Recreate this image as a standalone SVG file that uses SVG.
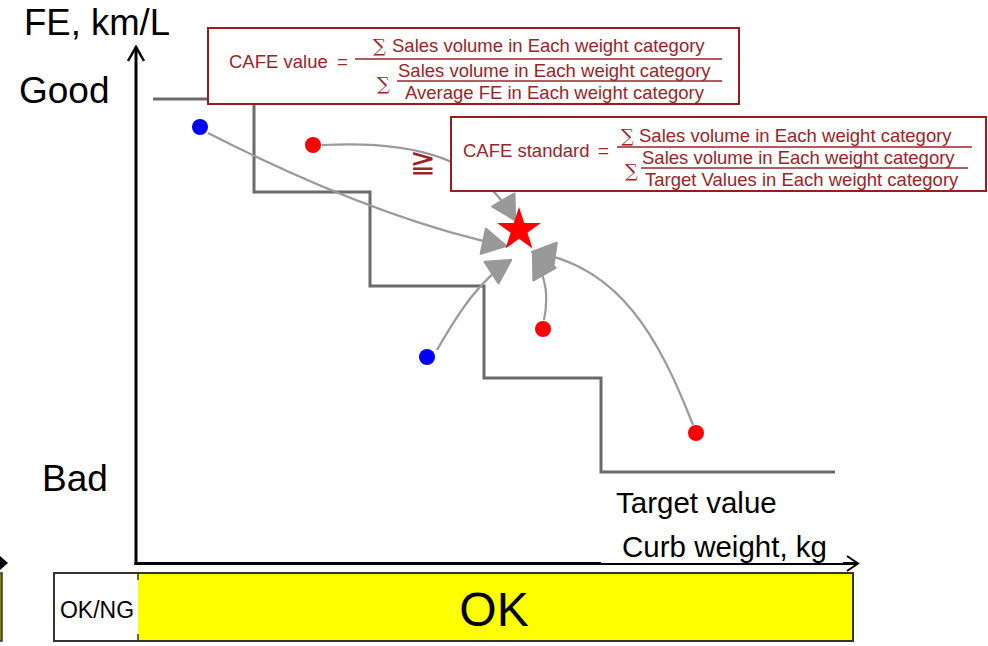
<svg xmlns="http://www.w3.org/2000/svg" width="988" height="646" viewBox="0 0 988 646">
<defs>
<style>
text{font-family:"Liberation Sans",Arial,sans-serif}
.lbl{fill:#000}
.f{fill:#9a2528;font-size:18.5px}
.sig{fill:#9a2528;font-size:18px;font-family:"DejaVu Serif","Liberation Serif",serif}
.box{fill:#fff;stroke:#9b1c20;stroke-width:2}
.fl{stroke:#9a2528;stroke-width:1.5}
.stair{fill:none;stroke:#6b6b6b;stroke-width:3}
.con{fill:none;stroke:#9a9a9a;stroke-width:2.2}
.dotr{fill:#ff0000}
.dotb{fill:#0000ff}
</style>
<marker id="ah" markerUnits="userSpaceOnUse" markerWidth="30" markerHeight="30" viewBox="-2 -2 26 26" refX="20" refY="11" orient="auto">
<path d="M0,0 L20,11 L0,22 z" fill="#999" stroke="#999" stroke-width="2" stroke-linejoin="round"/>
</marker>
</defs>
<rect width="988" height="646" fill="#fff"/>

<!-- fragments of neighbouring figure at left edge -->
<path d="M0,556 L8,563 L0,570 z" fill="#000"/>
<rect x="-4" y="573" width="6" height="68" fill="#8a8a00" stroke="#333" stroke-width="1.5"/>

<!-- staircase -->
<path class="stair" d="M153,99 H254 V192 H370 V286 H484 V378 H601 V472 H835"/>

<!-- axes -->
<g id="axes">
<line x1="136" y1="565" x2="136" y2="47" stroke="#000" stroke-width="3"/>
<path d="M128,61 L136,47 L144,61" fill="none" stroke="#000" stroke-width="2.5"/>
<line x1="134.5" y1="563.5" x2="857" y2="563.5" stroke="#000" stroke-width="3"/>
<path d="M847,556 L858,563.5 L847,571" fill="none" stroke="#000" stroke-width="2"/>
</g>

<!-- connectors -->
<g id="connectors">
<path class="con" d="M208,133 C320,190 420,228 506,246" marker-end="url(#ah)"/>
<path class="con" d="M322,145 C420,140 480,160 515,220" marker-end="url(#ah)"/>
<path class="con" d="M437,350 C460,310 480,280 511,260" marker-end="url(#ah)"/>
<path class="con" d="M544,320 C548,300 548,280 533,254" marker-end="url(#ah)"/>
<path class="con" d="M693,425 C660,340 620,265 532,252" marker-end="url(#ah)"/>
</g>

<!-- points -->
<g id="p1"><circle class="dotb" cx="200" cy="127" r="8"/></g>
<g id="p2"><circle class="dotr" cx="313" cy="145" r="8"/></g>
<g id="p3"><circle class="dotb" cx="427" cy="357" r="8"/></g>
<g id="p4"><circle class="dotr" cx="543" cy="329" r="8"/></g>
<g id="p5"><circle class="dotr" cx="696" cy="433" r="8"/></g>
<g id="star"><polygon fill="#ff0000" points="519,207 524.2,222.9 540.9,222.9 527.4,232.7 532.5,248.6 519,238.8 505.5,248.6 510.6,232.7 497.1,222.9 513.8,222.9"/></g>

<!-- CAFE value box -->
<g id="cafe-value">
<rect class="box" x="208" y="28" width="531" height="76"/>
<text class="f" x="229" y="68">CAFE value</text>
<text class="f" x="337" y="68">=</text>
<text class="sig" x="373" y="52">∑</text>
<text class="f" x="392" y="52">Sales volume in Each weight category</text>
<line class="fl" x1="355" y1="59" x2="722" y2="59"/>
<text class="sig" x="377" y="90">∑</text>
<text class="f" x="398" y="77">Sales volume in Each weight category</text>
<line class="fl" x1="397" y1="81" x2="722" y2="81"/>
<text class="f" x="405" y="99">Average FE in Each weight category</text>
</g>

<!-- >= sign -->
<text x="423" y="172" text-anchor="middle" style="fill:#9a2528;font-size:31px;font-family:'DejaVu Sans',sans-serif">≧</text>

<!-- CAFE standard box -->
<g id="cafe-standard">
<rect class="box" x="451" y="117" width="535" height="74"/>
<text class="f" x="463" y="157">CAFE standard</text>
<text class="f" x="598" y="157">=</text>
<text class="sig" x="621" y="142">∑</text>
<text class="f" x="639" y="142">Sales volume in Each weight category</text>
<line class="fl" x1="617" y1="147" x2="972" y2="147"/>
<text class="sig" x="625" y="177">∑</text>
<text class="f" x="642" y="164">Sales volume in Each weight category</text>
<line class="fl" x1="641" y1="168" x2="968" y2="168"/>
<text class="f" x="645" y="186">Target Values in Each weight category</text>
</g>

<!-- axis labels -->
<text class="lbl" x="24" y="35" style="font-size:36.5px">FE, km/L</text>
<text class="lbl" x="19" y="103" style="font-size:37px">Good</text>
<text class="lbl" x="42" y="491" style="font-size:37px">Bad</text>
<text class="lbl" x="616" y="513" style="font-size:29.5px">Target value</text>
<rect x="601" y="530" width="242" height="33" fill="#fff"/>
<text class="lbl" x="622" y="557" style="font-size:29.5px">Curb weight, kg</text>

<!-- OK bar -->
<g id="okbar">
<rect x="54" y="573" width="799" height="68" fill="#fff" stroke="#333" stroke-width="2"/>
<rect x="138" y="574" width="714" height="66" fill="#ffff00"/>
<line x1="138" y1="573" x2="138" y2="580" stroke="#333" stroke-width="1.5"/>
<line x1="138" y1="634" x2="138" y2="641" stroke="#333" stroke-width="1.5"/>
<text class="lbl" x="97" y="618" text-anchor="middle" style="font-size:23px">OK/NG</text>
<text class="lbl" x="494" y="626" text-anchor="middle" style="font-size:48px">OK</text>
</g>
</svg>
